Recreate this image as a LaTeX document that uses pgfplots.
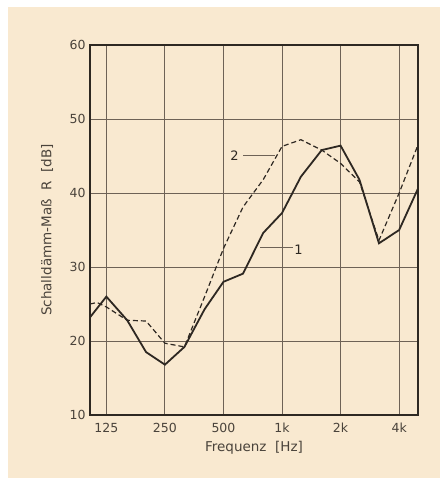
\documentclass[border=0pt]{standalone}
\usepackage{pgfplots}
\pgfplotsset{compat=1.18}
\usepackage{fontspec}
\setmainfont{DejaVu Sans}
\definecolor{bgc}{HTML}{F9E9D0}
\definecolor{gridc}{HTML}{6E6256}
\definecolor{inkc}{HTML}{2E2822}
\definecolor{txtc}{HTML}{4A433B}

\begin{document}
\begin{tikzpicture}
\fill[white] (-90pt,-64pt) rectangle (353pt,415pt);
\fill[bgc] (-82pt,-63pt) rectangle (350pt,408pt);
\begin{axis}[scale only axis,width=328pt,height=370pt,
xmode=log,xmin=103,xmax=5000,ymin=10,ymax=60,
xtick={125,250,500,1000,2000,4000},xticklabels={125,250,500,1k,2k,4k},
ytick={10,20,30,40,50,60},
log ticks with fixed point,
tick style={draw=none},
grid=major,grid style={gridc,line width=0.9pt},
axis line style={inkc,line width=1.3pt},
font=\fontsize{12.5}{14}\selectfont,
ticklabel style={text=txtc},
/pgf/number format/assume math mode=true,
xlabel={Frequenz\ \ [Hz]},ylabel={Schalldämm-Maß\ \ R\ \ [dB]},
label style={text=txtc,font=\fontsize{13.5}{15}\selectfont},
xlabel style={at={(axis description cs:0.5,-0.089)},anchor=center},
ylabel style={at={(axis description cs:-0.131,0.5)},anchor=center},
xticklabel style={anchor=center,yshift=-13pt},
yticklabel style={xshift=-1pt},
]
% curve 1, solid
\addplot[inkc,line width=1.8pt] coordinates {
(103,23.2) (125,26) (160,22.8) (200,18.5) (250,16.8) (315,19.2) (400,24.3)
(500,28) (630,29.1) (800,34.6) (1000,37.3) (1250,42.2) (1600,45.8) (2000,46.4)
(2500,41.8) (3150,33.2) (4000,35) (5000,40.6)};
% curve 2, dashed
\addplot[inkc,line width=1.2pt,dash pattern=on 5pt off 3pt] coordinates {
(103,25) (112,25.2) (125,24.6) (160,22.8) (200,22.7) (250,19.7) (315,19.2) (400,26)
(500,32.5) (630,38.1) (800,41.8) (1000,46.3) (1250,47.2) (1600,45.8) (2000,44)
(2500,41.5) (3150,33.6) (4000,40) (5000,46.5)};
\draw[gridc,line width=0.7pt] (axis cs:632,45.1) -- (axis cs:922,45.1);
\node[text=inkc,font=\fontsize{13}{14}\selectfont] at (axis cs:570,45.0) {2};
\draw[gridc,line width=0.7pt] (axis cs:772,32.6) -- (axis cs:1142,32.6);
\node[text=inkc,font=\fontsize{13}{14}\selectfont] at (axis cs:1215,32.3) {1};
\end{axis}
\end{tikzpicture}
\end{document}
